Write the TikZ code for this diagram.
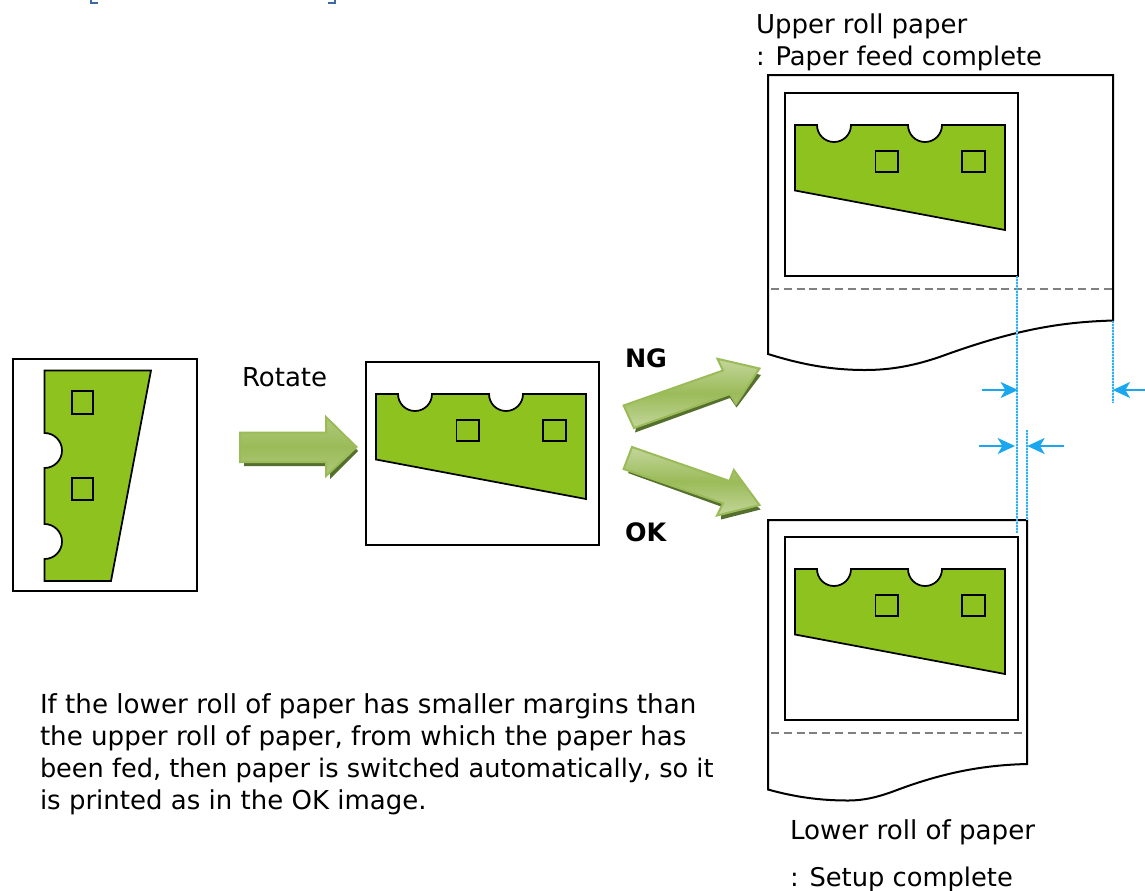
\documentclass[tikz,border=0pt]{standalone}
\usepackage{fontspec}
\setmainfont{DejaVu Sans}
\usetikzlibrary{arrows.meta}
\definecolor{leaf}{HTML}{8DC21F}
\definecolor{arrowmid}{HTML}{9BBB59}
\definecolor{arrowlight}{HTML}{C3D69B}
\definecolor{arrowsoft}{HTML}{AEC97A}
\definecolor{arrowedge}{HTML}{9BBB59}
\definecolor{arrowshadow}{HTML}{55702E}
\definecolor{dimblue}{HTML}{1AA7EE}
\definecolor{dimdot}{HTML}{2FB2F0}
\definecolor{dimpale}{HTML}{B5E4FA}
\definecolor{headblue}{HTML}{3D6AA5}
\newcommand{\fsz}[1]{\fontsize{#1pt}{22pt}\selectfont}
\tikzset{
  x=0.75pt,y=-0.75pt,
  outline/.style={draw=black,line width=1.5pt,line join=miter},
  part/.style={draw=black,line width=1.3pt,fill=leaf},
  hole/.style={draw=black,line width=1.3pt},
  cutline/.style={draw=black!50,line width=1.1pt,dash pattern=on 6pt off 3.6pt},
  dimunder/.style={draw=dimpale,line width=1.5pt},
  dimline/.style={draw=dimdot,line width=1.5pt,dash pattern=on 1.25pt off 1pt},
  dimarrow/.style={draw=dimblue,line width=1.3pt,-{Stealth[length=13pt,width=12pt,inset=3.5pt]}},
  lbl/.style={anchor=base west,inner sep=0pt,outer sep=0pt,font=\fsz{19.5}},
  lblb/.style={lbl,font=\fsz{19}\bfseries},
  bigarrow/.style={draw=arrowedge,line width=1.5pt,line join=miter,top color=arrowlight,bottom color=arrowlight,middle color=arrowmid},
  softarrow/.style={bigarrow,top color=arrowsoft,bottom color=arrowsoft,middle color=arrowmid},
  shadowarrow/.style={fill=arrowshadow},
}
\newcommand{\landscapepart}[2]{%
  \begin{scope}[shift={(#1,#2)}]
    \draw[part] (795,125) -- (817,125) arc[start angle=180,end angle=360,x radius=17,y radius=-17]
      -- (908,125) arc[start angle=180,end angle=360,x radius=17,y radius=-17]
      -- (1005,125) -- (1005,230) -- (795,190.5) -- cycle;
    \draw[hole] (875.5,151) rectangle (898,172);
    \draw[hole] (962,151) rectangle (985,172);
  \end{scope}}
\begin{document}
\begin{tikzpicture}
\useasboundingbox (0,0) rectangle (1145,890);
% clipped brackets at the top edge
\draw[headblue,line width=1.6pt] (91,0) -- (91,3.2) -- (98,3.2);
\draw[headblue,line width=1.6pt] (335,0) -- (335,3.2) -- (328,3.2);

% left sheet
\draw[outline] (13,358.5) rectangle (196.5,591);
\draw[part] (44.5,370.5) -- (151,370.5) -- (111,581) -- (44.5,581) -- (44.5,559)
  arc[start angle=-90,end angle=90,x radius=17.5,y radius=-17.5] -- (44.5,468)
  arc[start angle=-90,end angle=90,x radius=17.5,y radius=-17.5] -- cycle;
\draw[hole] (72,391) rectangle (93,414);
\draw[hole] (72,478) rectangle (93,500);

% rotate arrow
\fill[shadowarrow] (244,436) -- (330,436) -- (330,420) -- (358,451) -- (330,479) -- (330,466) -- (244,466) -- cycle;
\path[softarrow] (240,432.5) -- (326,432.5) -- (326,417) -- (356.5,447) -- (326,476) -- (326,462) -- (240,462) -- cycle;

% middle sheet
\draw[outline] (366,361.5) rectangle (599,545);
\landscapepart{-419}{269}

% NG arrow
\fill[shadowarrow] (635,432.5) -- (730,398) -- (736.5,407.5) -- (761,375) -- (740,370) -- (640,410) -- cycle;
\path[bigarrow] (623.6,405.5) -- (723,370.5) -- (717.5,358.8) -- (759.5,368.5) -- (736,404) -- (730,394) -- (634,428) -- cycle;

% OK arrow
\fill[shadowarrow] (628,473) -- (721,506.5) -- (721,519.5) -- (760.6,509.5) -- (740,490) -- (640,460) -- cycle;
\path[bigarrow] (632,447) -- (729.5,481) -- (733.8,470) -- (759.5,505) -- (717,515.5) -- (723,503.3) -- (623.6,469) -- cycle;

% upper paper
\draw[outline] (768,354) -- (768,75) -- (1113,75) -- (1113,320.5)
  .. controls (1065,322) and (1020,328) .. (945,355)
  .. controls (915,366) and (890,370) .. (865,370)
  .. controls (830,370) and (800,364) .. cycle;
\draw[outline] (785,92.5) rectangle (1017.5,275.5);
\landscapepart{0}{0}
\draw[cutline] (771,289) -- (1113,289);

% lower paper
\draw[outline] (768,789.5) -- (768,520) -- (1027,520) -- (1027,764)
  .. controls (985,765) and (945,772) .. (897,790)
  .. controls (880,796.5) and (865,800.5) .. (848,800.5)
  .. controls (820,800.5) and (795,797) .. cycle;
\draw[outline] (785,536.5) rectangle (1017.5,719.5);
\landscapepart{0}{444}
\draw[cutline] (771,733) -- (1027,733);

% dimension lines
\coordinate (da) at (1017.3,276);
\coordinate (db) at (1017.3,533);
\coordinate (dc) at (1113,321);
\coordinate (dd) at (1113,403);
\coordinate (de) at (1026.7,430);
\coordinate (df) at (1026.7,520);
\draw[dimunder] (da) -- (db);
\draw[dimunder] (dc) -- (dd);
\draw[dimunder] (de) -- (df);
\draw[dimline] (da) -- (db);
\draw[dimline] (dc) -- (dd);
\draw[dimline] (de) -- (df);
\coordinate (a1) at (981.7,390);
\coordinate (a2) at (1018,390);
\coordinate (a3) at (1145,390);
\coordinate (a4) at (1112.7,390);
\coordinate (a5) at (979,446);
\coordinate (a6) at (1015,446);
\coordinate (a7) at (1064,446);
\coordinate (a8) at (1027.3,446);
\draw[dimarrow] (a1) -- (a2);
\draw[dimarrow] (a3) -- (a4);
\draw[dimarrow] (a5) -- (a6);
\draw[dimarrow] (a7) -- (a8);

% text
\node[lbl] (t1) at (756,33) {Upper roll paper};
\node[lbl,font=\fsz{19.3}] (t2) at (756,65) {: Paper feed complete};
\node[lbl] (t3) at (242,386) {Rotate};
\node[lblb] (t4) at (625,367) {NG};
\node[lblb] (t5) at (625,541) {OK};
\node[lbl,font=\fsz{19.62}] (p1) at (40,713) {If the lower roll of paper has smaller margins than};
\node[lbl,font=\fsz{19.6}] (p2) at (40,745) {the upper roll of paper, from which the paper has};
\node[lbl,font=\fsz{19.19}] (p3) at (40,777) {been fed, then paper is switched automatically, so it};
\node[lbl] (p4) at (40,809) {is printed as in the OK image.};
\node[lbl,font=\fsz{19.6}] (t6) at (790,839) {Lower roll of paper};
\node[lbl,font=\fsz{19.3}] (t7) at (790,886) {: Setup complete};
\end{tikzpicture}
\end{document}
